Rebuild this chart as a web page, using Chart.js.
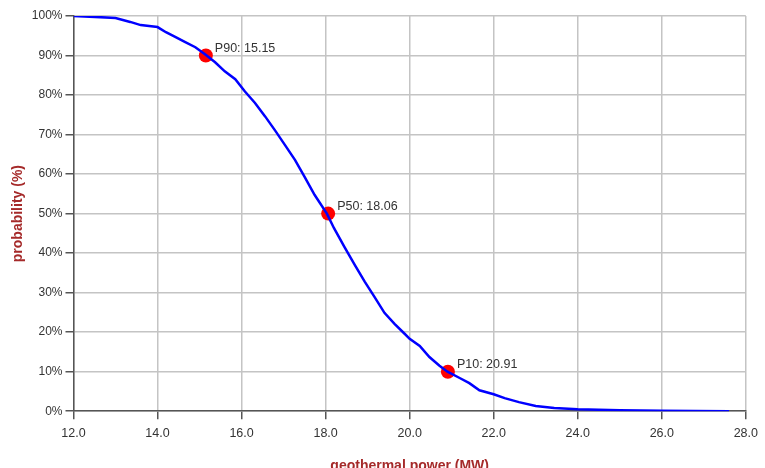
<!DOCTYPE html>
<html>
<head>
<meta charset="utf-8">
<script src="https://cdn.jsdelivr.net/npm/chart.js@4/dist/chart.umd.min.js"></script>
<style>
html,body{margin:0;padding:0;background:#fff;overflow:hidden;}
#wrap{width:765px;height:475px;}
</style>
</head>
<body>
<div id="wrap"><canvas id="c" width="765" height="475"></canvas></div>
<script>
const powerMW = [12.0,12.64,13.0,13.35,13.6,14.0,14.2,14.42,14.66,14.9,15.13,15.37,15.6,15.85,16.08,16.32,16.56,16.8,17.03,17.27,17.5,17.74,18.03,18.2,18.45,18.7,18.93,19.17,19.4,19.64,19.88,20.0,20.24,20.47,20.71,20.9,21.19,21.42,21.66,22.0,22.26,22.6,23.0,23.44,24.0,25.0,26.0,27.6];
const probability = [100,99.7,99.5,98.5,97.7,97.2,95.9,94.7,93.4,92.1,90.3,88.3,86,84,80.9,78,74.6,71,67.4,63.6,59.3,54.7,50,46.3,41.5,36.9,32.8,28.8,24.9,22.1,19.6,18.3,16.5,13.7,11.5,10,8.4,7.1,5.3,4.3,3.3,2.3,1.3,0.8,0.5,0.25,0.1,0];
const markerNames = ["P90","P50","P10"];
const markerPower = [15.15,18.06,20.91];
const markerProb = [90,50,10];
const xTitle = "geothermal power (MW)";
const yTitle = "probability (%)";

const curve = powerMW.map((x,i)=>({x:x,y:probability[i]}));
const marks = markerPower.map((x,i)=>({x:x,y:markerProb[i]}));

const labelPlugin = {
  id:'markLabels',
  afterDatasetsDraw(chart){
    const ctx = chart.ctx;
    const xs = chart.scales.x, ys = chart.scales.y;
    ctx.save();
    ctx.font = '12.5px "Liberation Sans", Arial, sans-serif';
    ctx.fillStyle = '#333';
    ctx.textAlign = 'left';
    ctx.textBaseline = 'middle';
    markerNames.forEach((n,i)=>{
      const px = xs.getPixelForValue(markerPower[i]);
      const py = ys.getPixelForValue(markerProb[i]);
      ctx.fillText(n + ': ' + markerPower[i].toFixed(2), px + 9, py - 7);
    });
    ctx.restore();
  }
};

new Chart(document.getElementById('c'), {
  type:'scatter',
  data:{datasets:[
    {data:marks, showLine:false, pointRadius:7, pointHoverRadius:7, backgroundColor:'#ff0000', borderColor:'#ff0000', borderWidth:0, order:2},
    {data:curve, showLine:true, borderColor:'#0000ff', borderWidth:2.5, pointRadius:0, fill:false, tension:0, order:1}
  ]},
  options:{
    responsive:false, animation:false, devicePixelRatio:1,
    layout:{padding:{top:16,right:16,left:10,bottom:0}},
    plugins:{legend:{display:false}, tooltip:{enabled:false}},
    scales:{
      x:{type:'linear', min:12, max:28,
        ticks:{stepSize:2, color:'#333', font:{family:'"Liberation Sans", Arial, sans-serif', size:12.5}, padding:7, callback:v=>v.toFixed(1), maxRotation:0},
        grid:{color:'#c4c4c4', lineWidth:1.5, tickLength:8, tickColor:'#555'},
        border:{color:'#555', width:1.5},
        title:{display:true, text:xTitle, color:'#a52a2a', font:{family:'"Liberation Sans", Arial, sans-serif', size:14, weight:'bold'}, padding:{top:10,bottom:0}}
      },
      y:{type:'linear', min:0, max:100,
        ticks:{stepSize:10, color:'#333', font:{family:'"Liberation Sans", Arial, sans-serif', size:12}, padding:3, callback:v=>v+'%'},
        grid:{color:'#c4c4c4', lineWidth:1.5, tickLength:8, tickColor:'#555'},
        border:{color:'#555', width:1.5},
        title:{display:true, text:yTitle, color:'#a52a2a', font:{family:'"Liberation Sans", Arial, sans-serif', size:14, weight:'bold'}, padding:{top:0,bottom:2}}
      }
    }
  },
  plugins:[labelPlugin]
});
</script>
</body>
</html>
